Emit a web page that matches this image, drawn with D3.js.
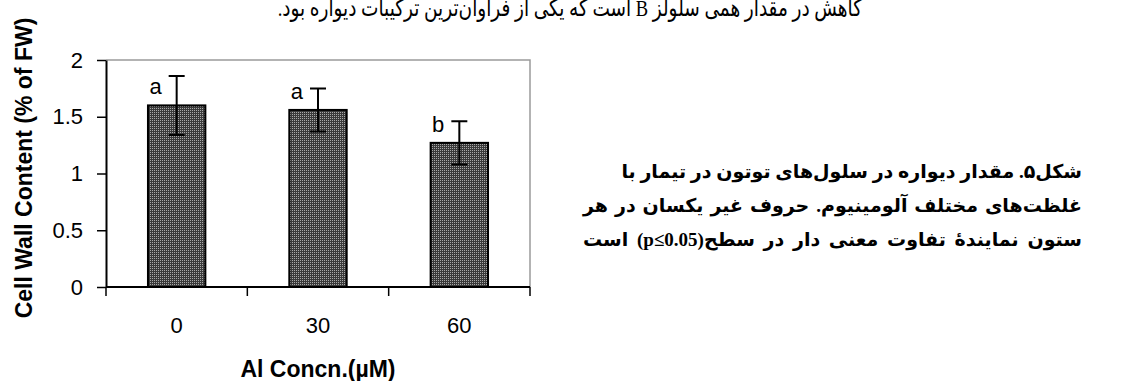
<!DOCTYPE html>
<html>
<head>
<meta charset="utf-8">
<script src="https://cdn.jsdelivr.net/npm/d3@7"></script>
<style>
  html, body { margin: 0; padding: 0; background: #fff; }
  svg { display: block; }
</style>
</head>
<body>
<script>
// Cell wall content of tobacco cells under three aluminium concentrations
const concentrations = ["0", "30", "60"];
const wallContent = [1.60, 1.56, 1.27];
const wallError = [0.26, 0.19, 0.19];
const groupLetters = ["a", "a", "b"];
const yTicks = [0, 0.5, 1, 1.5, 2];
const yTickLabels = ["0", "0.5", "1", "1.5", "2"];

const yTitle = "Cell Wall Content (% of FW)";
const xTitle = "Al Concn.(\u00B5M)";
const headLine = "کاهش در مقدار همی سلولز B است که یکی از فراوان‌ترین ترکیبات دیواره بود.";
const captionLines = [
  "شکل۵. مقدار دیواره در سلول‌های توتون در تیمار با",
  "غلظت‌های مختلف آلومینیوم. حروف غیر یکسان در هر",
  "ستون نمایندهٔ تفاوت معنی دار در سطح(p≤0.05) است"
];

const W = 1131, H = 381;
const plot = { left: 106, right: 530, top: 60, bottom: 287 };

const svg = d3.select("body").append("svg")
  .attr("width", W).attr("height", H);

// fine dotted fill used for the bars
const defs = svg.append("defs");
const pat = defs.append("pattern")
  .attr("id", "dots").attr("patternUnits", "userSpaceOnUse")
  .attr("width", 2).attr("height", 2);
pat.append("rect").attr("width", 2).attr("height", 2).attr("fill", "#3a3a3a");
pat.append("rect").attr("width", 1).attr("height", 1).attr("fill", "#a9a9a9");

const x = d3.scaleBand()
  .domain(concentrations)
  .range([plot.left, plot.right])
  .paddingInner(0.594)
  .paddingOuter(0.297);

const y = d3.scaleLinear()
  .domain([0, 2])
  .range([plot.bottom, plot.top]);

// plot frame: grey top and right edges
svg.append("path")
  .attr("d", `M${plot.left},${y(2)}H${plot.right}V${y(0)}`)
  .attr("fill", "none").attr("stroke", "#9a9a9a").attr("stroke-width", 1.5);

// bars
svg.append("g").selectAll("rect")
  .data(concentrations)
  .join("rect")
  .attr("x", d => x(d))
  .attr("width", x.bandwidth())
  .attr("y", (d, i) => y(wallContent[i]))
  .attr("height", (d, i) => y(0) - y(wallContent[i]))
  .attr("fill", "url(#dots)")
  .attr("stroke", "#000").attr("stroke-width", 2);

// error bars
const capHalf = 8;
const eb = svg.append("g").attr("stroke", "#000").attr("stroke-width", 2).attr("fill", "none");
concentrations.forEach((c, i) => {
  const cx = x(c) + x.bandwidth() / 2;
  const hi = y(wallContent[i] + wallError[i]);
  const lo = y(wallContent[i] - wallError[i]);
  eb.append("path")
    .attr("d", `M${cx},${hi}V${lo}M${cx - capHalf},${hi}H${cx + capHalf}M${cx - capHalf},${lo}H${cx + capHalf}`);
});

// significance letters
svg.append("g").selectAll("text")
  .data(concentrations)
  .join("text")
  .attr("x", d => x(d) + x.bandwidth() / 2 - 15)
  .attr("y", (d, i) => y(wallContent[i]) - 11)
  .attr("text-anchor", "end")
  .attr("font-family", "Liberation Sans, Arial, sans-serif")
  .attr("font-size", 22)
  .attr("fill", "#000")
  .text((d, i) => groupLetters[i]);

// y axis
const yAxis = svg.append("g")
  .attr("transform", `translate(${plot.left},0)`)
  .call(d3.axisLeft(y).tickValues(yTicks)
    .tickFormat((d, i) => yTickLabels[i])
    .tickSize(9).tickSizeOuter(0).tickPadding(14));
yAxis.select(".domain").attr("stroke", "#000").attr("stroke-width", 2);
yAxis.selectAll(".tick line").attr("stroke", "#000").attr("stroke-width", 1.5);
yAxis.selectAll("text")
  .attr("font-family", "Liberation Sans, Arial, sans-serif")
  .attr("font-size", 22).attr("fill", "#000");

// x axis: category labels centred, ticks on category boundaries
const xAxis = svg.append("g")
  .attr("transform", `translate(0,${plot.bottom})`)
  .call(d3.axisBottom(x).tickSize(0).tickSizeOuter(0).tickPadding(30));
xAxis.select(".domain").attr("stroke", "#000").attr("stroke-width", 2)
  .attr("d", `M${plot.left},0H${plot.right}`);
xAxis.selectAll("text")
  .attr("font-family", "Liberation Sans, Arial, sans-serif")
  .attr("font-size", 22).attr("fill", "#000");
const bounds = concentrations.map(c => x(c) - x.step() * x.paddingInner() / 2)
  .concat([plot.right]);
xAxis.append("g").selectAll("line")
  .data(bounds)
  .join("line")
  .attr("x1", d => d).attr("x2", d => d)
  .attr("y1", 0).attr("y2", 9)
  .attr("stroke", "#000").attr("stroke-width", 1.5);

// axis titles
svg.append("text")
  .attr("transform", `translate(32,168) rotate(-90)`)
  .attr("text-anchor", "middle")
  .attr("font-family", "Liberation Sans, Arial, sans-serif")
  .attr("font-weight", "bold").attr("font-size", 23)
  .text(yTitle);

svg.append("text")
  .attr("x", (plot.left + plot.right) / 2).attr("y", 377)
  .attr("text-anchor", "middle")
  .attr("font-family", "Liberation Sans, Arial, sans-serif")
  .attr("font-weight", "bold").attr("font-size", 23)
  .text(xTitle);

// Persian running text above the chart (right-to-left), set a little condensed
const headRight = 862, headLeft = 277;
const head = svg.append("g")
  .attr("transform", `translate(${headRight},16)`)
  .append("text")
  .attr("x", 0).attr("y", 0)
  .attr("direction", "rtl")
  .style("unicode-bidi", "embed")
  .attr("text-anchor", "start")
  .attr("font-family", "Liberation Serif, DejaVu Sans, sans-serif")
  .attr("font-size", 24)
  .text(headLine);
const headLen = head.node().getComputedTextLength();
d3.select(head.node().parentNode)
  .attr("transform", `translate(${headRight},16) scale(${(headRight - headLeft) / headLen},1)`);

// figure caption (right-to-left), right-aligned; the last two lines are justified
const capRight = 1082, capLeft = 583;
const caption = svg.append("g").selectAll("text")
  .data(captionLines)
  .join("text")
  .attr("x", capRight)
  .attr("y", (d, i) => 178 + i * 34)
  .attr("direction", "rtl")
  .style("unicode-bidi", "embed")
  .attr("text-anchor", "start")
  .attr("font-family", "Liberation Serif, DejaVu Sans, sans-serif")
  .attr("font-weight", "bold")
  .attr("font-size", 19)
  .text(d => d);
caption.each(function (d, i) {
  if (i === 0) return;
  const len = this.getComputedTextLength();
  const gaps = (d.match(/ /g) || []).length;
  const extra = (capRight - capLeft) - len;
  if (gaps > 0 && extra > 0) d3.select(this).attr("word-spacing", extra / gaps);
});
</script>
</body>
</html>
